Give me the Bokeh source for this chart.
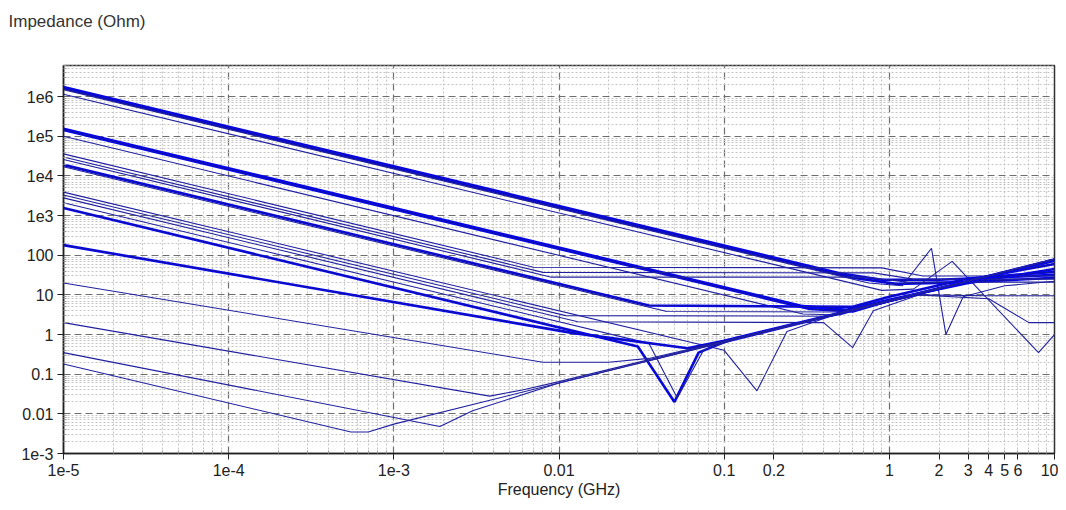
from bokeh.plotting import figure
from bokeh.models import FixedTicker, Range1d
from bokeh.embed import file_html
from bokeh.resources import INLINE

# ---- data: frequency (GHz) / impedance (Ohm) ----
f_c1 = [1e-5, 0.5, 0.9, 2, 5, 10]
z_c1 = [1.75e6, 35, 24, 24, 28, 32]
f_c2 = [1e-5, 0.6, 1.1, 3, 10]
z_c2 = [1.62e6, 27, 19, 21, 27]
f_c3 = [1e-5, 0.75, 1.2, 1.8, 2.2, 2.8, 5, 10]
z_c3 = [1.5e6, 20, 17, 150, 1.0, 9, 17, 22]
f_c4 = [1e-5, 0.9, 1.4, 2.4, 8, 10]
z_c4 = [1.15e6, 13, 14, 70, 0.35, 1.0]
f_c5 = [1e-5, 0.3, 0.55, 1, 3, 10]
z_c5 = [1.55e5, 5.2, 4.2, 7.5, 20, 45]
f_c6 = [1e-5, 0.33, 0.6, 1.1, 4, 10]
z_c6 = [1.45e5, 4.4, 3.8, 8, 30, 60]
f_c7 = [1e-5, 0.3, 0.5, 0.8, 10]
z_c7 = [1.0e5, 3.3, 3.1, 5.5, 70]
f_c8 = [1e-5, 0.007, 0.9, 1.6, 10]
z_c8 = [3.6e4, 50, 48, 30, 30]
f_c9 = [1e-5, 0.008, 0.8, 1.4, 10]
z_c9 = [3.0e4, 37, 36, 25, 25]
f_c10 = [1e-5, 0.009, 0.7, 1.3, 10]
z_c10 = [2.6e4, 28, 28, 21, 21]
f_c11 = [1e-5, 0.035, 0.6, 1, 3, 10]
z_c11 = [1.9e4, 5.4, 5, 9, 26, 38]
f_c12 = [1e-5, 0.045, 0.5, 0.8, 10]
z_c12 = [1.7e4, 3.8, 3.7, 6, 72]
f_c13 = [1e-5, 0.1, 0.158, 0.24, 0.5, 10]
z_c13 = [3.9e3, 0.4, 0.038, 1.2, 3.5, 70]
f_c14 = [1e-5, 0.011, 0.45, 0.75, 1.5, 4, 10]
z_c14 = [3.3e3, 3.0, 2.9, 5.2, 10, 9.5, 9.5]
f_c15 = [1e-5, 0.013, 0.4, 0.6, 0.8, 1.5, 4, 7, 10]
z_c15 = [2.8e3, 2.1, 2.0, 0.47, 4, 10, 8, 2, 2]
f_c16 = [1e-5, 0.03, 0.05, 0.07, 0.1, 1, 10]
z_c16 = [1.55e3, 0.5, 0.02, 0.35, 0.65, 7, 76]
f_c17 = [1e-5, 0.035, 0.052, 0.075, 0.12, 10]
z_c17 = [2.1e3, 0.6, 0.025, 0.4, 0.8, 80]
f_c18 = [1e-5, 0.012, 0.06, 0.1, 1, 10]
z_c18 = [180, 1.1, 0.45, 0.7, 7, 78]
f_c19 = [1e-5, 0.008, 0.02, 0.035, 0.1, 10]
z_c19 = [20, 0.2, 0.2, 0.25, 0.68, 78]
f_c20 = [1e-5, 0.0038, 0.006, 0.01, 1, 10]
z_c20 = [2.0, 0.028, 0.04, 0.065, 7, 80]
f_c21 = [1e-5, 0.0019, 0.003, 0.01, 1, 10]
z_c21 = [0.35, 0.0048, 0.012, 0.06, 6.8, 79]
f_c22 = [1e-5, 5.5e-4, 7e-4, 1e-3, 0.01, 0.1, 1, 10]
z_c22 = [0.18, 0.0035, 0.0035, 0.0055, 0.06, 0.65, 7, 80]

curves = [
    (f_c1, z_c1, True), (f_c2, z_c2, True), (f_c3, z_c3, False), (f_c4, z_c4, False),
    (f_c5, z_c5, True), (f_c6, z_c6, True), (f_c7, z_c7, False),
    (f_c8, z_c8, False), (f_c9, z_c9, False), (f_c10, z_c10, False),
    (f_c11, z_c11, True), (f_c12, z_c12, False),
    (f_c13, z_c13, False), (f_c14, z_c14, False), (f_c15, z_c15, False),
    (f_c16, z_c16, True), (f_c17, z_c17, False),
    (f_c18, z_c18, True), (f_c19, z_c19, False), (f_c20, z_c20, False),
    (f_c21, z_c21, False), (f_c22, z_c22, False),
]

x_tick_vals = [1e-5, 1e-4, 1e-3, 0.01, 0.1, 0.2, 1, 2, 3, 4, 5, 6, 10]
x_tick_text = ["1e-5", "1e-4", "1e-3", "0.01", "0.1", "0.2", "1", "2", "3", "4", "5", "6", "10"]
y_tick_vals = [1e-3, 0.01, 0.1, 1, 10, 100, 1e3, 1e4, 1e5, 1e6]
y_tick_text = ["1e-3", "0.01", "0.1", "1", "10", "100", "1e3", "1e4", "1e5", "1e6"]

FONT = "'Liberation Sans', Arial, sans-serif"
X_MIN, X_MAX = 1e-5, 10
Y_MIN, Y_MAX = 1e-3, 6.1e6

p = figure(frame_width=991, frame_height=388, x_axis_type="log", y_axis_type="log",
           x_range=Range1d(X_MIN, X_MAX), y_range=Range1d(Y_MIN, Y_MAX),
           output_backend="svg", toolbar_location=None,
           min_border_left=63, min_border_right=4, min_border_top=65, min_border_bottom=50,
           background_fill_color="white", border_fill_color="white")

# title: a trailing empty line lifts the text well above the frame
p.title.text = "Impedance (Ohm)\n"
p.title.align = "left"
p.title.offset = -55
p.title.standoff = 0
p.title.text_line_height = 1.8
p.title.text_font = FONT
p.title.text_font_size = "17px"
p.title.text_font_style = "normal"
p.title.text_color = "#333333"

p.outline_line_color = "#303030"
p.outline_line_width = 1.5

decades_x = [10.0 ** k for k in range(-5, 2)]
decades_y = [10.0 ** k for k in range(-3, 8)]
minor_x = [m * 10.0 ** k for k in range(-5, 1) for m in range(2, 10)]
minor_y = [m * 10.0 ** k for k in range(-3, 7) for m in range(2, 10)]

p.xaxis.ticker = FixedTicker(ticks=x_tick_vals, minor_ticks=minor_x)
p.xaxis.major_label_overrides = {v: t for v, t in zip(x_tick_vals, x_tick_text)}
p.yaxis.ticker = FixedTicker(ticks=y_tick_vals, minor_ticks=minor_y)
p.yaxis.major_label_overrides = {v: t for v, t in zip(y_tick_vals, y_tick_text)}

p.xgrid.ticker = FixedTicker(ticks=decades_x, minor_ticks=minor_x)
p.ygrid.ticker = FixedTicker(ticks=decades_y, minor_ticks=minor_y)

for g in (p.xgrid, p.ygrid):
    g.grid_line_color = "#6e6e6e"
    g.grid_line_dash = "7 4"
    g.grid_line_width = 1.2
    g.minor_grid_line_color = "#c4c4c4"
    g.minor_grid_line_dash = "2 2"
    g.minor_grid_line_width = 1

for ax in (p.xaxis, p.yaxis):
    ax.axis_line_color = "#202020"
    ax.axis_line_width = 1.5
    ax.major_tick_line_color = "#202020"
    ax.major_tick_out = 6
    ax.major_tick_in = 0
    ax.minor_tick_line_color = "#9a9a9a"
    ax.minor_tick_in = 3
    ax.minor_tick_out = 0
    ax.major_label_text_font = FONT
    ax.major_label_text_font_size = "16px"
    ax.major_label_text_color = "#222222"

p.xaxis.axis_label = "Frequency (GHz)"
p.xaxis.axis_label_text_font = FONT
p.xaxis.axis_label_text_font_size = "16px"
p.xaxis.axis_label_text_font_style = "normal"
p.xaxis.axis_label_text_color = "#222222"
p.xaxis.axis_label_standoff = 2
p.xaxis.major_label_standoff = 4
p.yaxis.major_label_standoff = 4

for fx, zy, thick in curves:
    if thick:
        p.line(fx, zy, line_color="#0000ff", line_width=2.6)
        p.line(fx, zy, line_color="#1a1a80", line_width=0.8)
    else:
        p.line(fx, zy, line_color="#2020a0", line_width=1.1)

open("out.html", "w").write(file_html(p, INLINE))
